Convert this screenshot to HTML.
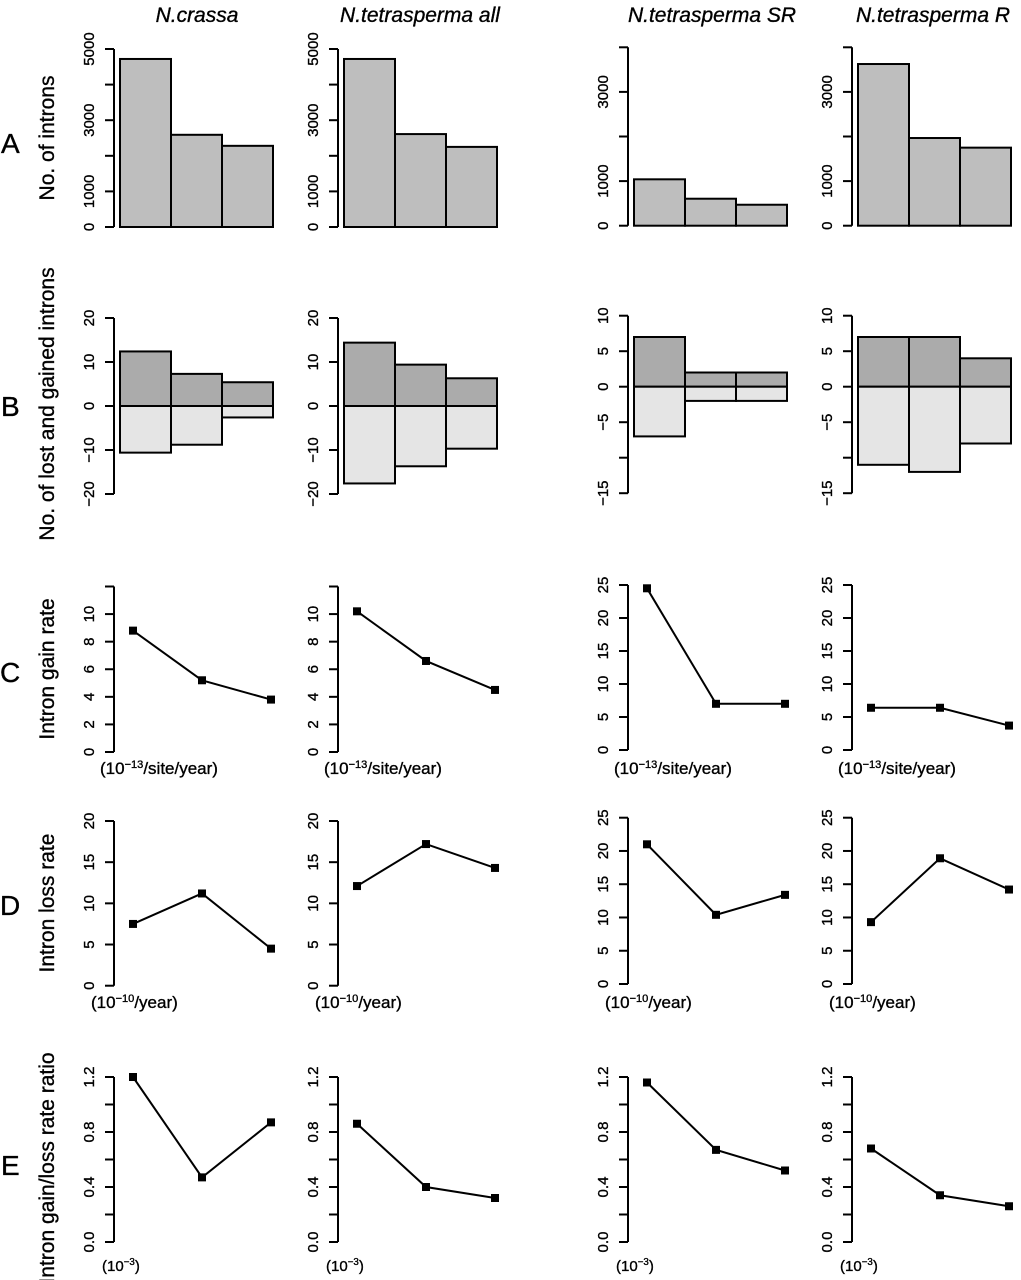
<!DOCTYPE html>
<html><head><meta charset="utf-8">
<style>
html,body{margin:0;padding:0;background:#fff;}
svg{display:block;font-family:"Liberation Sans",sans-serif;}
text{stroke:#000;stroke-width:0.35px;}
</style></head>
<body>
<svg id="fig" width="1021" height="1280" viewBox="0 0 1021 1280" xmlns="http://www.w3.org/2000/svg">
<g id="titles" font-style="italic" font-size="21" text-anchor="middle">
<text x="197" y="22">N.crassa</text>
<text x="420" y="22">N.tetrasperma all</text>
<text x="712" y="22">N.tetrasperma SR</text>
<text x="933" y="22">N.tetrasperma R</text>
</g>
<g font-size="28">
<text x="1" y="153">A</text>
<text x="1" y="416">B</text>
<text x="0" y="682">C</text>
<text x="0" y="915">D</text>
<text x="1" y="1175">E</text>
</g>
<g font-size="21" text-anchor="middle">
<text transform="translate(54,138) rotate(-90)">No. of introns</text>
<text transform="translate(54,404) rotate(-90)">No. of lost and gained introns</text>
<text transform="translate(54,669) rotate(-90)">Intron gain rate</text>
<text transform="translate(54,903) rotate(-90)">Intron loss rate</text>
<text transform="translate(54,1168) rotate(-90)">Intron gain/loss rate ratio</text>
</g>
<g id="plots"></g>
</svg>
<script>
const columns = ["ncrassa","ntetrasperma-all","ntetrasperma-sr","ntetrasperma-r"];
const introns = [[4720,2590,2280],[4720,2610,2250],[1040,605,470],[3625,1966,1750]];
const gained = [[12.4,7.3,5.4],[14.4,9.4,6.3],[7,2,2],[7,7,4]];
const lost = [[-10.6,-8.8,-2.6],[-17.6,-13.7,-9.7],[-7,-2,-2],[-11,-12,-8]];
const gainRate = [[8.8,5.2,3.8],[10.2,6.6,4.5],[24.5,7,7],[6.4,6.4,3.7]];
const lossRate = [[7.5,11.2,4.5],[12.1,17.2,14.3],[21,10.4,13.4],[9.3,18.9,14.2]];
const ratio = [[1.2,0.47,0.87],[0.86,0.40,0.32],[1.16,0.67,0.52],[0.68,0.34,0.26]];
const ticksA12 = [0,1000,2000,3000,4000,5000];
const labelsA12 = ["0","1000","","3000","","5000"];
const ticksA34 = [0,1000,2000,3000,4000];
const labelsA34 = ["0","1000","","3000",""];
const ticksB12 = [-20,-10,0,10,20];
const labelsB12 = ["\u221220","\u221210","0","10","20"];
const ticksB34 = [-15,-10,-5,0,5,10];
const labelsB34 = ["\u221215","","\u22125","0","5","10"];
const ticksC12 = [0,2,4,6,8,10,12];
const labelsC12 = ["0","2","4","6","8","10",""];
const ticksC34 = [0,5,10,15,20,25];
const labelsC34 = ["0","5","10","15","20","25"];
const ticksD12 = [0,5,10,15,20];
const labelsD12 = ["0","5","10","15","20"];
const ticksD34 = [0,5,10,15,20,25];
const labelsD34 = ["0","5","10","15","20","25"];
const ticksE = [0,0.2,0.4,0.6,0.8,1.0,1.2];
const labelsE = ["0.0","","0.4","","0.8","","1.2"];

const NS = "http://www.w3.org/2000/svg";
const root = document.getElementById("plots");
const axisX = [114,338,628,852];
function mk(tag, attrs, parent){
  const e = document.createElementNS(NS, tag);
  for (const k in attrs) e.setAttribute(k, attrs[k]);
  parent.appendChild(e);
  return e;
}
function scale(v0, p0, v1, p1){ return v => p0 + (v - v0) * (p1 - p0) / (v1 - v0); }

function axis(g, ax, y, ticks, labels, name){
  const ag = mk("g", {}, g);
  
  
  mk("line", {x1:ax, x2:ax, y1:y(ticks[0]), y2:y(ticks[ticks.length-1]), stroke:"#000", "stroke-width":2}, ag);
  ticks.forEach((t,i) => {
    mk("line", {x1:ax-9, x2:ax, y1:y(t), y2:y(t), stroke:"#000", "stroke-width":2}, ag);
    if (labels[i]) {
      const tx = mk("text", {x:ax-20, y:y(t), "font-size":15, "text-anchor":"middle", transform:`rotate(-90 ${ax-20} ${y(t)})`}, ag);
      
      
      tx.textContent = labels[i];
    }
  });
}

for (let c = 0; c < 4; c++){
  const ax = axisX[c];
  const wide = c < 2;
  const bx = i => ax + 6 + i * 51;
  const px = i => ax + 19 + i * 69;
  {
    const y = wide ? scale(0,227,5000,49) : scale(0,225.7,4000,47.3);
    const g = mk("g", {}, root);
    
    
    introns[c].forEach((v,i) => {
      const r = mk("rect", {x:bx(i), y:y(v), width:51, height:y(0)-y(v), fill:"#bebebe", stroke:"#000", "stroke-width":2}, g);
      
      
    });
    axis(g, ax, y, wide?ticksA12:ticksA34, wide?labelsA12:labelsA34, 'panel-a-' + columns[c]);
  }
  {
    const y = wide ? scale(0,406,20,318) : scale(0,386.7,10,315.7);
    const g = mk("g", {}, root);
    
    
    gained[c].forEach((v,i) => {
      const r = mk("rect", {x:bx(i), y:y(v), width:51, height:y(0)-y(v), fill:"#ababab", stroke:"#000", "stroke-width":2}, g);
      
      
    });
    lost[c].forEach((v,i) => {
      const r = mk("rect", {x:bx(i), y:y(0), width:51, height:y(v)-y(0), fill:"#e5e5e5", stroke:"#000", "stroke-width":2}, g);
      
      
    });
    axis(g, ax, y, wide?ticksB12:ticksB34, wide?labelsB12:labelsB34, 'panel-b-' + columns[c]);
  }
  const lineRows = [
    {key:'c', data:gainRate, y: wide ? scale(0,752,12,586.5) : scale(0,750,25,585), t: wide?ticksC12:ticksC34, l: wide?labelsC12:labelsC34, unit:["(10","\u221213","/site/year)"], uy:774},
    {key:'d', data:lossRate, y: wide ? scale(0,985.7,20,821) : scale(0,984,25,817.7), t: wide?ticksD12:ticksD34, l: wide?labelsD12:labelsD34, unit:["(10","\u221210","/year)"], uy:1008},
    {key:'e', data:ratio, y: scale(0,1242,1.2,1077), t: ticksE, l: labelsE, unit:["(10","\u22123",")"], uy:1271}
  ];
  lineRows.forEach(R => {
    const g = mk("g", {}, root);
    
    
    const pts = R.data[c].map((v,i) => px(i) + "," + R.y(v)).join(" ");
    const pl = mk("polyline", {points:pts, fill:"none", stroke:"#000", "stroke-width":2}, g);
    
    
    R.data[c].forEach((v,i) => {
      const m = mk("rect", {x:px(i)-4, y:R.y(v)-4, width:8, height:8, fill:"#000"}, g);
      
      
    });
    axis(g, ax, R.y, R.t, R.l, 'panel-' + R.key + '-' + columns[c]);
    const ux = R.key === 'e' ? ax - 12 : (R.key === 'd' ? ax - 23 : ax - 14);
    const fs = R.key === 'e' ? 15 : 17;
    const ut = mk("text", {x:ux, y:R.uy, "font-size":fs}, g);
    
    
    const s1 = mk("tspan", {}, ut); s1.textContent = R.unit[0];
    const s2 = mk("tspan", {"font-size":fs*0.65, dy:-6}, ut); s2.textContent = R.unit[1];
    const s3 = mk("tspan", {dy:6}, ut); s3.textContent = R.unit[2];
  });
}
</script>
</body></html>
